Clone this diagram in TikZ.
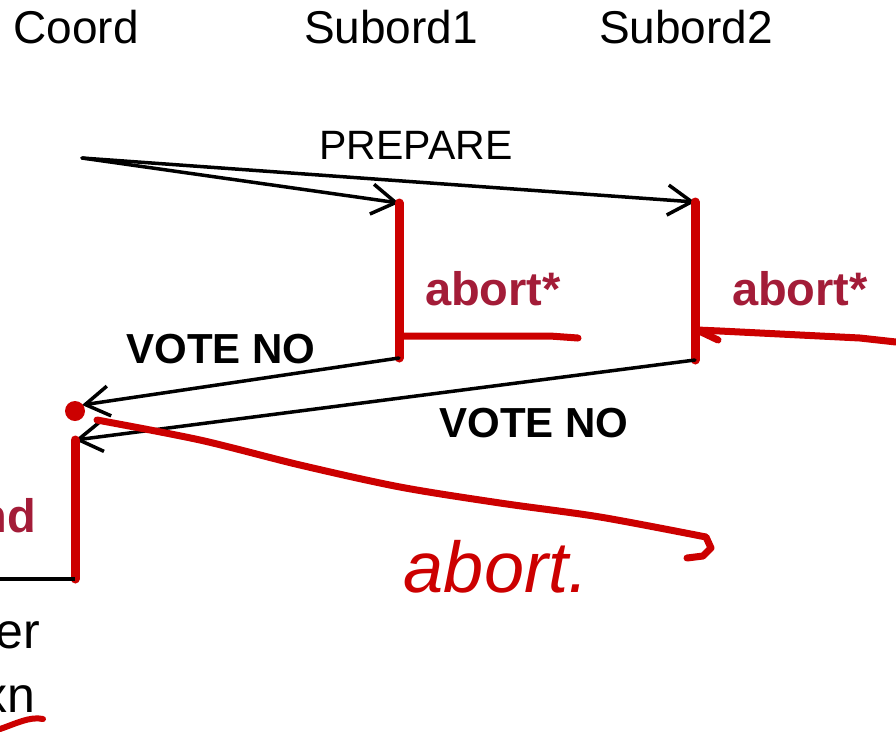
\documentclass[tikz,border=0pt]{standalone}
\usepackage{fontspec}
\setmainfont{Liberation Sans}
\usetikzlibrary{arrows.meta}
\definecolor{penred}{RGB}{204,0,0}
\definecolor{labred}{RGB}{163,28,56}
\begin{document}
\begin{tikzpicture}[x=1pt,y=-1pt,
  head/.style={font=\fontsize{46}{50}\selectfont, anchor=base, inner sep=0pt},
  msg/.style={font=\fontsize{41}{46}\selectfont, anchor=base, inner sep=0pt},
  vote/.style={font=\fontsize{42}{46}\selectfont\bfseries, anchor=base, inner sep=0pt},
  state/.style={font=\fontsize{47}{50}\selectfont\bfseries, text=labred, anchor=base, inner sep=0pt},
  side/.style={font=\fontsize{50}{54}\selectfont, anchor=base east, inner sep=0pt},
  arr/.style={draw=black, line width=3.5pt, line cap=round,
    -{Straight Barb[length=24pt,width=30pt,line width=3.5pt]}},
  bar/.style={draw=penred, line width=9pt, line cap=round},
  pen/.style={draw=penred, line width=7pt, line cap=round, line join=round}]
\useasboundingbox (0,0) rectangle (896,740);
\clip (0,0) rectangle (896,740);

% column headings
\node[head] (hc) at (76,43) {Coord};
\node[head] (h1) at (391,43) {Subord1};
\node[head] (h2) at (686,43) {Subord2};

% timeline points
\coordinate (c0) at (82,158);
\coordinate (s1top) at (399,203);
\coordinate (s1bot) at (399,358);
\coordinate (s2top) at (695,202);
\coordinate (s2bot) at (695,360);
\coordinate (dot) at (75,411);
\coordinate (ctop) at (75,440);
\coordinate (cbot) at (75,579);
\coordinate (cleft) at (0,579);

% prepare messages
\draw[arr] (c0) -- (s1top);
\draw[arr] (c0) -- (s2top);
\node[msg] (prep) at (416,159) {PREPARE};

% subordinate activity bars
\draw[bar] (s1top) -- (s1bot);
\draw[bar] (s2top) -- (s2bot);
\coordinate (a1end) at (578,338);
\draw[pen] (399,336) -- (550,336) -- (a1end);
\node[state] (ab1) at (493,305) {abort*};
\node[state] (ab2) at (800,305) {abort*};
\draw[pen] (896,342) -- (860,338) -- (720,331) -- (697,330);
\draw[pen] (697,330) -- (718,340);

% votes
\draw[arr] (s1bot) -- (82,405);
\draw[arr] (s2bot) -- (ctop);
\node[vote] (v1) at (221,363) {VOTE NO};
\node[vote] (v2) at (534,437) {VOTE NO};

% coordinator
\fill[penred] (dot) circle (10);
\draw[bar] (ctop) -- (cbot);
\draw[line width=3.5pt] (cleft) -- (cbot);
\node[state, anchor=base east] (nd) at (36,532) {nd};
\node[side] (er) at (40,648) {er};
\node[side] (xn) at (36,712) {xn};
\draw[pen, line width=6pt] (0,729) .. controls (15,724) and (30,716) .. (43,719);

% handwritten abort decision
\draw[pen] plot[smooth] coordinates {(97,420) (200,440) (300,465) (400,487) (500,503) (600,517) (706,537)}
  -- (711,548) -- (703,556) -- (687,558);
\node[font=\fontsize{72}{76}\selectfont\itshape, text=penred, anchor=base, inner sep=0pt]
  (hw) at (496,592) {abort.};
\end{tikzpicture}
\end{document}
